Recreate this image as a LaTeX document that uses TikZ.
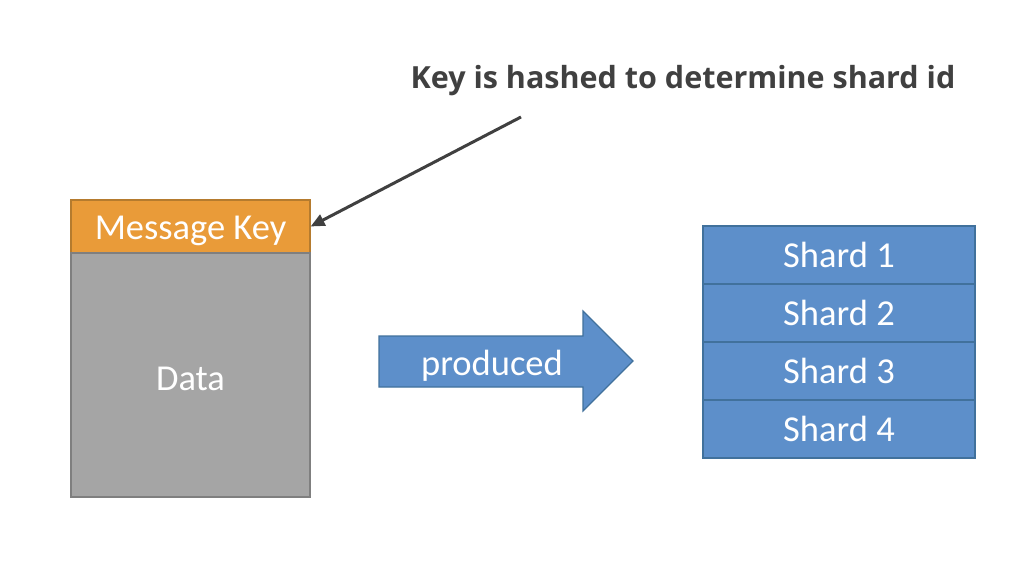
\documentclass[tikz,border=0pt]{standalone}
\usepackage{fontspec}
\usetikzlibrary{arrows.meta}
\setmainfont{Carlito}
\newfontfamily\titlefont{Open Sans}
\definecolor{keyfill}{HTML}{E99B39}
\definecolor{keyline}{HTML}{B57B2E}
\definecolor{datafill}{HTML}{A5A5A5}
\definecolor{dataline}{HTML}{7F7F7F}
\definecolor{bluefill}{HTML}{5D8FCA}
\definecolor{blueline}{HTML}{41719C}
\definecolor{darktext}{HTML}{404040}
\begin{document}
\begin{tikzpicture}[x=1pt,y=-1pt,
  box/.style={draw, line width=1.2pt, inner sep=0pt, text=white, font=\fontsize{36.5}{40}\selectfont},
  boxtext/.style={text=white, font=\fontsize{36.5}{40}\selectfont, yshift=-4pt},
  shardbox/.style={box, fill=bluefill, draw=blueline, minimum width=272pt, minimum height=58pt},
  callout/.style={draw=darktext, line width=3pt, -{Triangle[length=14pt,width=12pt]}}]
\useasboundingbox (0,0) rectangle (1028,586);
\fill[white] (0,0) rectangle (1028,586);
\node[font=\titlefont\bfseries\fontsize{30.5}{36}\selectfont, text=darktext] (title) at (683,81) {Key is hashed to determine shard id};
\node[box, fill=keyfill, draw=keyline, minimum width=239pt, minimum height=53pt, label={[boxtext]center:Message Key}] (key) at (190.5,226.5) {};
\node[box, fill=datafill, draw=dataline, minimum width=239pt, minimum height=244pt, label={[boxtext]center:Data}] (data) at (190.5,375) {};
\coordinate (cstart) at (521,117);
\draw[callout] (cstart) -- (key.east);
\draw[fill=bluefill, draw=blueline, line width=1.2pt] (379,336) -- (583,336) -- (583,311) -- (633,361) -- (583,411) -- (583,387) -- (379,387) -- cycle;
\node[text=white, font=\fontsize{36.5}{40}\selectfont] (prod) at (492,366) {produced};
\node[shardbox] (s1) at (839,255) {Shard 1};
\node[shardbox] (s2) at (839,313) {Shard 2};
\node[shardbox] (s3) at (839,371) {Shard 3};
\node[shardbox] (s4) at (839,429) {Shard 4};
\end{tikzpicture}
\end{document}
